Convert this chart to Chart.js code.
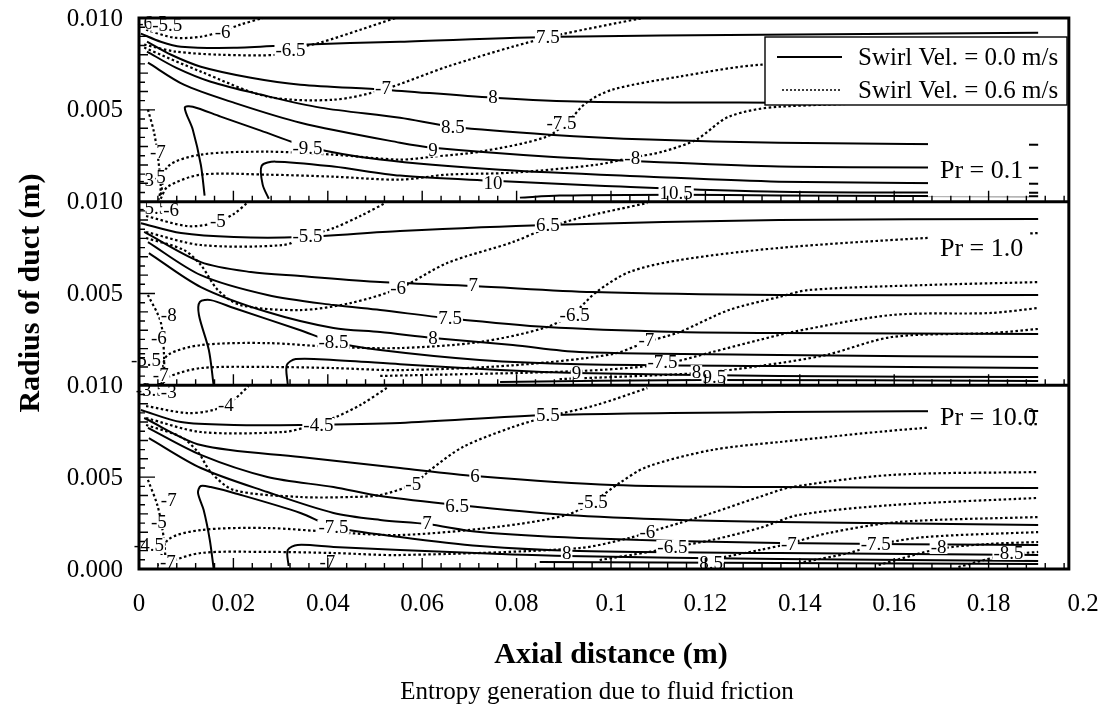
<!DOCTYPE html>
<html>
<head>
<meta charset="utf-8">
<script src="https://cdn.jsdelivr.net/npm/chart.js@4.4.1/dist/chart.umd.min.js"></script>
<style>
    html, body { margin: 0; padding: 0; background: #fff; }
</style>
</head>
<body>
<canvas id="chart" width="1099" height="712"></canvas>
<script>
// --- DATA ---
// axis ticks (the three Pr panels are stacked on one 0..0.03 m axis)
const xTickValues = [0, 0.02, 0.04, 0.06, 0.08, 0.1, 0.12, 0.14, 0.16, 0.18, 0.2];
const xTickLabels = ['0', '0.02', '0.04', '0.06', '0.08', '0.1', '0.12', '0.14', '0.16', '0.18', '0.2'];
const yTickValues = [0, 0.005, 0.01, 0.015, 0.02, 0.025, 0.03];
const yTickLabels = ['0.000', '0.005', '0.010', '0.005', '0.010', '0.005', '0.010'];

const panelBase = [20, 10, 0];          // mm offset of each panel on the stacked axis
const panelTitles = ['Pr = 0.1', 'Pr = 1.0', 'Pr = 10.0'];
const seriesNames = ['Swirl Vel. = 0.0 m/s', 'Swirl Vel. = 0.6 m/s'];

// contour lines, points are [axial mm, radius mm]
// Pr = 0.1
const topSolid = [
    [[0.4,9.15],[4.6,8.71],[8.9,8.44],[20.1,8.38],[34.2,8.55],[55.3,8.71],[89.1,8.98],[132.0,9.09],[190.5,9.2]],
    [[1.7,8.71],[6.8,8.0],[13.1,7.35],[23.7,6.75],[34.2,6.37],[51.7,6.10],[75.0,5.66],[94.8,5.44],[135.6,5.39],[190.5,5.39]],
    [[1.7,8.17],[7.8,7.30],[15.2,6.53],[25.8,5.83],[38.4,5.12],[55.3,4.57],[66.5,4.08],[87.0,3.65],[108.1,3.38],[135.6,3.21],[190.5,3.10]],
    [[1.9,7.57],[9.5,6.37],[20.1,5.39],[34.2,4.30],[55.3,3.21],[62.3,2.94],[87.0,2.45],[108.1,2.18],[135.6,1.91],[190.5,1.85]],
    [[13.9,0.33],[13.1,2.01],[11.4,3.92],[9.7,5.12],[11.4,5.17],[17.3,4.63],[25.8,3.87],[35.7,2.99],[51.1,2.29],[76.5,1.74],[108.1,1.36],[135.6,1.09],[190.5,0.98]],
    [[27.5,0.16],[26.2,0.93],[26.0,1.96],[28.9,2.18],[41.2,1.91],[55.3,1.42],[75.0,1.14],[97.6,0.87],[135.6,0.54],[190.5,0.49]],
    [[80.7,0.22],[89.1,0.33],[113.8,0.38],[135.6,0.33],[190.5,0.3]]
];
const topDotted = [
    [[1.5,9.36],[7.4,8.93],[13.1,8.98],[17.3,9.26],[21.5,9.64],[26.2,10.0]],
    [[1.1,8.55],[7.8,8.17],[17.3,8.0],[29.4,8.0],[32.1,8.28],[38.4,8.66],[46.9,9.36],[54.3,10.0]],
    [[1.1,8.39],[13.1,7.08],[27.2,5.72],[41.2,5.55],[51.7,6.1],[65.3,7.35],[79.2,8.44],[89.1,9.09],[106.7,10.0]],
    [[4.6,0.38],[6.1,1.91],[13.1,2.56],[27.2,2.72],[41.2,2.56],[55.3,2.29],[62.3,2.45],[72.2,2.72],[86.4,3.54],[91.2,4.46],[94.8,5.39],[100.3,6.10],[114.5,6.81],[132.0,7.46],[190.5,7.9]],
    [[4.6,0.16],[6.1,0.82],[13.1,1.47],[27.2,1.47],[41.2,1.36],[55.3,1.20],[65.3,1.47],[79.2,1.58],[96.9,2.01],[104.5,2.40],[110.9,2.72],[118.1,3.38],[125.0,4.63],[135.6,5.17],[190.5,5.55]],
    [[1.9,5.01],[3.2,3.76],[4.0,2.45],[4.6,0.82],[4.2,0.11]]
];
const topLabels = [
    [2.8,9.75,'-6.5'],[6.0,9.6,'-5.5'],[17.7,9.26,'-6'],[32.1,8.28,'-6.5'],[51.7,6.21,'-7'],
    [86.6,8.98,'7.5'],[75.0,5.72,'8'],[66.5,4.08,'8.5'],[89.5,4.30,'-7.5'],[62.3,2.83,'9'],
    [35.7,2.94,'-9.5'],[104.5,2.40,'-8'],[75.0,1.03,'10'],[113.8,0.49,'10.5'],
    [4.0,2.72,'-7'],[4.0,1.36,'-5'],[1.5,1.2,'-3']
];

// Pr = 1.0
const midSolid = [
    [[0.4,8.83],[8.9,8.29],[20.1,8.07],[34.2,8.07],[55.3,8.40],[86.4,8.73],[135.6,9.0],[190.5,9.05]],
    [[1.1,8.35],[13.1,6.71],[23.7,6.17],[34.2,5.95],[51.1,5.62],[70.8,5.41],[96.1,5.08],[135.6,4.92],[190.5,4.92]],
    [[1.9,7.80],[13.1,6.0],[27.2,4.92],[41.2,4.37],[51.1,4.10],[65.3,3.66],[86.4,3.17],[114.5,2.90],[135.6,2.85],[190.5,2.79]],
    [[2.1,7.20],[13.1,5.35],[27.2,3.99],[41.2,3.12],[51.1,2.90],[62.3,2.58],[79.2,2.19],[93.3,1.81],[135.6,1.65],[190.5,1.54]],
    [[15.8,0.02],[14.8,1.92],[12.7,3.83],[12.9,4.54],[15.2,4.64],[20.1,4.21],[34.2,3.0],[41.2,2.36],[51.1,1.92],[72.2,1.38],[93.3,1.15],[135.6,1.05],[190.5,0.94]],
    [[31.5,0.07],[31.3,1.09],[33.2,1.43],[41.2,1.38],[55.3,1.15],[76.5,0.83],[92.7,0.67],[135.6,0.51],[190.5,0.45]],
    [[76.5,0.18],[118.7,0.29],[190.5,0.23]]
];
const midDotted = [
    [[1.5,9.22],[10.3,8.67],[15.8,8.83],[20.1,9.33],[23.2,10.0]],
    [[1.5,8.35],[13.1,7.64],[30.6,7.64],[35.7,8.13],[41.2,8.56],[46.9,9.22],[52.2,9.93]],
    [[1.5,8.02],[9.5,7.37],[13.1,6.55],[16.7,5.19],[21.5,4.37],[34.2,4.10],[44.8,4.48],[55.3,5.30],[65.3,6.66],[79.2,7.80],[86.4,8.56],[93.3,9.11],[107.7,9.93]],
    [[4.6,0.72],[6.1,1.65],[13.1,2.19],[27.2,2.30],[41.2,2.09],[55.3,2.03],[72.2,2.36],[86.4,3.17],[92.3,3.99],[96.9,5.08],[103.9,6.17],[114.5,6.82],[135.6,7.48],[166.6,8.02],[190.5,8.29]],
    [[4.6,0.07],[6.1,0.45],[13.1,0.94],[27.2,1.0],[41.2,0.94],[55.3,0.83],[79.2,1.09],[100.3,1.70],[107.5,2.36],[114.5,2.90],[125.0,4.10],[135.6,4.81],[141.9,5.19],[166.6,5.46],[190.5,5.62]],
    [[51.1,0.51],[93.3,0.78],[110.9,1.15],[121.4,1.81],[131.4,2.47],[138.3,2.90],[159.5,3.83],[180.6,3.94],[190.5,4.21]],
    [[89.1,0.34],[118.7,0.67],[131.4,1.05],[145.5,1.65],[159.5,2.63],[180.6,2.85],[190.5,3.07]],
    [[1.9,4.92],[4.6,3.45],[5.3,1.65],[5.3,0.13]]
];
const midLabels = [
    [3.0,9.65,'-5.5'],[6.8,9.55,'-6'],[16.7,8.95,'-5'],[35.7,8.13,'-5.5'],[54.9,5.30,'-6'],
    [86.6,8.73,'6.5'],[70.8,5.46,'7'],[65.9,3.66,'7.5'],[92.3,3.83,'-6.5'],[62.3,2.58,'8'],
    [41.2,2.36,'-8.5'],[107.5,2.47,'-7'],[110.9,1.27,'-7.5'],[92.7,0.67,'9'],[118.1,0.72,'8'],
    [121.9,0.45,'9.5'],[6.3,3.83,'-8'],[4.2,2.58,'-6'],[1.5,1.38,'-5.5'],[4.6,0.56,'-7']
];

// Pr = 10.0
const lowSolid = [
    [[0.4,8.66],[8.9,8.0],[20.1,7.84],[34.2,7.84],[55.3,7.95],[86.6,8.38],[135.6,8.55],[190.5,8.60]],
    [[1.1,8.22],[13.1,6.75],[34.2,6.10],[55.3,5.50],[71.2,5.06],[100.3,4.57],[135.6,4.46],[190.5,4.41]],
    [[1.9,7.68],[13.1,6.21],[27.2,5.01],[41.2,4.46],[51.1,3.97],[67.4,3.48],[90.6,2.94],[114.5,2.67],[135.6,2.56],[190.5,2.40]],
    [[2.1,7.13],[13.1,5.50],[27.2,4.19],[41.2,3.05],[51.1,2.67],[61.0,2.45],[72.2,2.01],[93.3,1.69],[135.6,1.42],[190.5,1.31]],
    [[15.8,0.05],[15.0,1.58],[13.7,3.21],[12.5,4.14],[13.1,4.52],[15.2,4.46],[20.1,4.14],[34.2,3.05],[41.2,2.29],[55.3,1.74],[72.2,1.25],[93.3,0.98],[135.6,0.87],[190.5,0.76]],
    [[31.7,0.16],[31.5,1.03],[33.6,1.31],[41.2,1.20],[55.3,1.03],[76.5,0.82],[90.6,0.71],[135.6,0.54],[190.5,0.44]],
    [[84.9,0.38],[135.6,0.33],[190.5,0.27]]
];
const lowDotted = [
    [[1.5,8.87],[10.3,8.49],[15.8,8.66],[19.4,9.09],[21.5,9.53],[23.2,9.96]],
    [[1.5,8.22],[13.1,7.46],[30.6,7.46],[36.3,7.79],[41.2,8.22],[46.9,8.93],[52.8,9.91]],
    [[1.5,7.84],[8.9,7.19],[12.5,6.37],[15.2,5.28],[20.1,4.30],[34.2,3.92],[44.8,3.92],[51.1,4.03],[58.1,4.63],[61.7,5.39],[68.6,6.64],[79.2,7.73],[86.4,8.28],[96.9,8.93],[107.7,9.85]],
    [[4.2,0.16],[6.1,1.58],[13.1,2.12],[27.2,2.23],[41.2,2.01],[55.3,1.85],[75.8,2.29],[90.6,2.94],[96.1,3.65],[101.8,4.68],[107.5,5.55],[121.4,6.48],[135.6,6.91],[166.6,7.68],[190.5,7.89]],
    [[5.1,0.0],[6.1,0.33],[13.1,0.87],[27.2,0.93],[41.2,0.87],[55.3,0.76],[93.3,1.14],[103.9,1.69],[108.1,2.01],[114.5,2.50],[121.4,3.05],[131.4,3.92],[138.3,4.46],[159.5,5.12],[190.5,5.28]],
    [[97.6,0.49],[108.1,0.93],[113.4,1.20],[121.4,1.58],[131.4,2.23],[139.8,2.94],[159.5,3.48],[190.5,3.87]],
    [[118.7,0.38],[131.4,1.03],[137.3,1.36],[146.1,1.96],[160.9,2.56],[190.5,2.83]],
    [[139.8,0.33],[150.4,0.87],[156.1,1.31],[166.6,1.74],[190.5,2.01]],
    [[156.7,0.22],[169.4,1.09],[179.9,1.36],[190.5,1.47]],
    [[173.6,0.11],[183.5,0.76],[190.5,0.93]],
    [[1.9,4.85],[4.0,3.38],[5.3,1.58],[5.7,0.11]]
];
const lowLabels = [
    [2.5,9.75,'-3.5'],[6.3,9.64,'-3'],[18.4,8.93,'-4'],[38.0,7.84,'-4.5'],[86.6,8.38,'5.5'],
    [58.1,4.63,'-5'],[71.2,5.06,'6'],[67.4,3.43,'6.5'],[96.1,3.65,'-5.5'],[61.0,2.50,'7'],
    [41.2,2.29,'-7.5'],[107.7,2.01,'-6'],[113.0,1.20,'-6.5'],[137.7,1.36,'-7'],[156.1,1.36,'-7.5'],
    [169.4,1.20,'-8'],[184.2,0.87,'-8.5'],[90.6,0.87,'8'],[121.2,0.33,'8.5'],[39.9,0.38,'-7'],
    [6.3,3.76,'-7'],[4.2,2.56,'-5'],[2.1,1.31,'-4.5'],[6.1,0.38,'-7']
];

const panels = [
    { base: panelBase[0], solid: topSolid, dotted: topDotted, labels: topLabels, title: panelTitles[0] },
    { base: panelBase[1], solid: midSolid, dotted: midDotted, labels: midLabels, title: panelTitles[1] },
    { base: panelBase[2], solid: lowSolid, dotted: lowDotted, labels: lowLabels, title: panelTitles[2] }
];

// --- STYLE ---
const INK = '#000';
const SERIF = '"Liberation Serif", "DejaVu Serif", serif';
const DOT_DASH = [2.5, 2.5];

function lineSet(line, base, dotted) {
    return {
        data: line.map(([x, r]) => ({ x: x / 1000, y: (r + base) / 1000 })),
        showLine: true,
        borderColor: INK,
        borderWidth: dotted ? 2.2 : 2,
        borderDash: dotted ? DOT_DASH : [],
        pointRadius: 0,
        tension: 0.3,
        fill: false
    };
}

const datasets = [];
panels.forEach(p => {
    p.solid.forEach(l => datasets.push(lineSet(l, p.base, false)));
    p.dotted.forEach(l => datasets.push(lineSet(l, p.base, true)));
});

// frame, ticks, contour labels, panel titles, legend and axis text
const decor = {
    id: 'decor',
    afterDatasetsDraw(chart) {
        const { ctx, scales: { x, y } } = chart;
        const px = mm => x.getPixelForValue(mm / 1000);
        const py = mm => y.getPixelForValue(mm / 1000);
        ctx.save();

        // contour value labels, breaking the lines under them
        ctx.font = '19px ' + SERIF;
        ctx.textAlign = 'center';
        ctx.textBaseline = 'middle';
        panels.forEach(p => {
            p.labels.forEach(([lx, lr, t]) => {
                const cx = px(lx), cy = py(lr + p.base);
                const w = ctx.measureText(t).width;
                ctx.fillStyle = '#fff';
                ctx.fillRect(cx - w / 2 - 1, cy - 7, w + 2, 14);
                ctx.fillStyle = INK;
                ctx.fillText(t, cx, cy + 1);
            });
        });

        // Pr titles on white boxes
        const boxes = [[-30, 27, 1.74], [-18, 18, 7.47], [-19, 21, 8.27]];
        ctx.font = '26px ' + SERIF;
        ctx.textAlign = 'left';
        panels.forEach((p, i) => {
            const [up, down, rc] = boxes[i];
            const cy = py(rc + p.base);
            ctx.fillStyle = '#fff';
            ctx.fillRect(928, cy + up, 101, down - up);
            ctx.fillStyle = INK;
            ctx.fillText(p.title, 940, cy + 1);
        });

        // ticks inside each panel
        const x0 = px(0), xr = px(197);
        ctx.strokeStyle = INK;
        ctx.lineWidth = 1.4;
        ctx.beginPath();
        panels.forEach(p => {
            const yb = py(p.base);
            for (let k = 1; k * 4 < 197; k++) {
                const tx = px(k * 4);
                ctx.moveTo(tx, yb);
                ctx.lineTo(tx, yb - (k % 5 === 0 ? 11 : 6));
            }
            for (let k = 1; k < 20; k++) {
                const ty = py(p.base + k * 0.5);
                const len = k === 10 ? 16 : (k % 2 === 0 ? 9 : 6);
                ctx.moveTo(x0, ty);
                ctx.lineTo(x0 + len, ty);
            }
        });
        ctx.stroke();

        // frame and panel separators
        ctx.lineWidth = 3;
        ctx.strokeRect(x0, py(30), xr - x0, py(0) - py(30));
        ctx.beginPath();
        [10, 20].forEach(v => { ctx.moveTo(x0, py(v)); ctx.lineTo(xr, py(v)); });
        ctx.stroke();

        // legend
        ctx.fillStyle = '#fff';
        ctx.fillRect(765, 37, 302, 68);
        ctx.lineWidth = 1.4;
        ctx.strokeRect(765, 37, 302, 68);
        ctx.lineWidth = 1.8;
        ctx.beginPath(); ctx.moveTo(777, 57); ctx.lineTo(842, 57); ctx.stroke();
        ctx.lineWidth = 1.6;
        ctx.setLineDash([2, 2]);
        ctx.beginPath(); ctx.moveTo(782, 90); ctx.lineTo(840, 90); ctx.stroke();
        ctx.setLineDash([]);
        ctx.fillStyle = INK;
        ctx.font = '25px ' + SERIF;
        ctx.textAlign = 'left';
        ctx.fillText(seriesNames[0], 858, 58);
        ctx.fillText(seriesNames[1], 858, 91);

        // tick labels
        ctx.font = '25px ' + SERIF;
        ctx.textAlign = 'right';
        yTickValues.forEach((v, i) => ctx.fillText(yTickLabels[i], 123, y.getPixelForValue(v) + 1));
        ctx.textAlign = 'center';
        xTickValues.forEach((v, i) => ctx.fillText(xTickLabels[i], x.getPixelForValue(v), 604));

        // axis titles and caption
        ctx.font = 'bold 30px ' + SERIF;
        ctx.fillText('Axial distance (m)', 611, 655);
        ctx.save();
        ctx.translate(31, 293);
        ctx.rotate(-Math.PI / 2);
        ctx.fillText('Radius of duct (m)', 0, 0);
        ctx.restore();
        ctx.font = '25px ' + SERIF;
        ctx.fillText('Entropy generation due to fluid friction', 597, 692);

        ctx.restore();
    }
};

new Chart(document.getElementById('chart').getContext('2d'), {
    type: 'scatter',
    data: { datasets },
    options: {
        responsive: false,
        animation: false,
        layout: { padding: { left: 0, right: 16, top: 18, bottom: 0 } },
        plugins: { legend: { display: false }, tooltip: { enabled: false } },
        scales: {
            x: {
                type: 'linear', min: 0, max: 0.2,
                grid: { display: false }, border: { display: false },
                ticks: { display: false },
                afterFit: s => { s.height = 143; }
            },
            y: {
                type: 'linear', min: 0, max: 0.03,
                grid: { display: false }, border: { display: false },
                ticks: { display: false },
                afterFit: s => { s.width = 139; }
            }
        }
    },
    plugins: [decor]
});
</script>
</body>
</html>
